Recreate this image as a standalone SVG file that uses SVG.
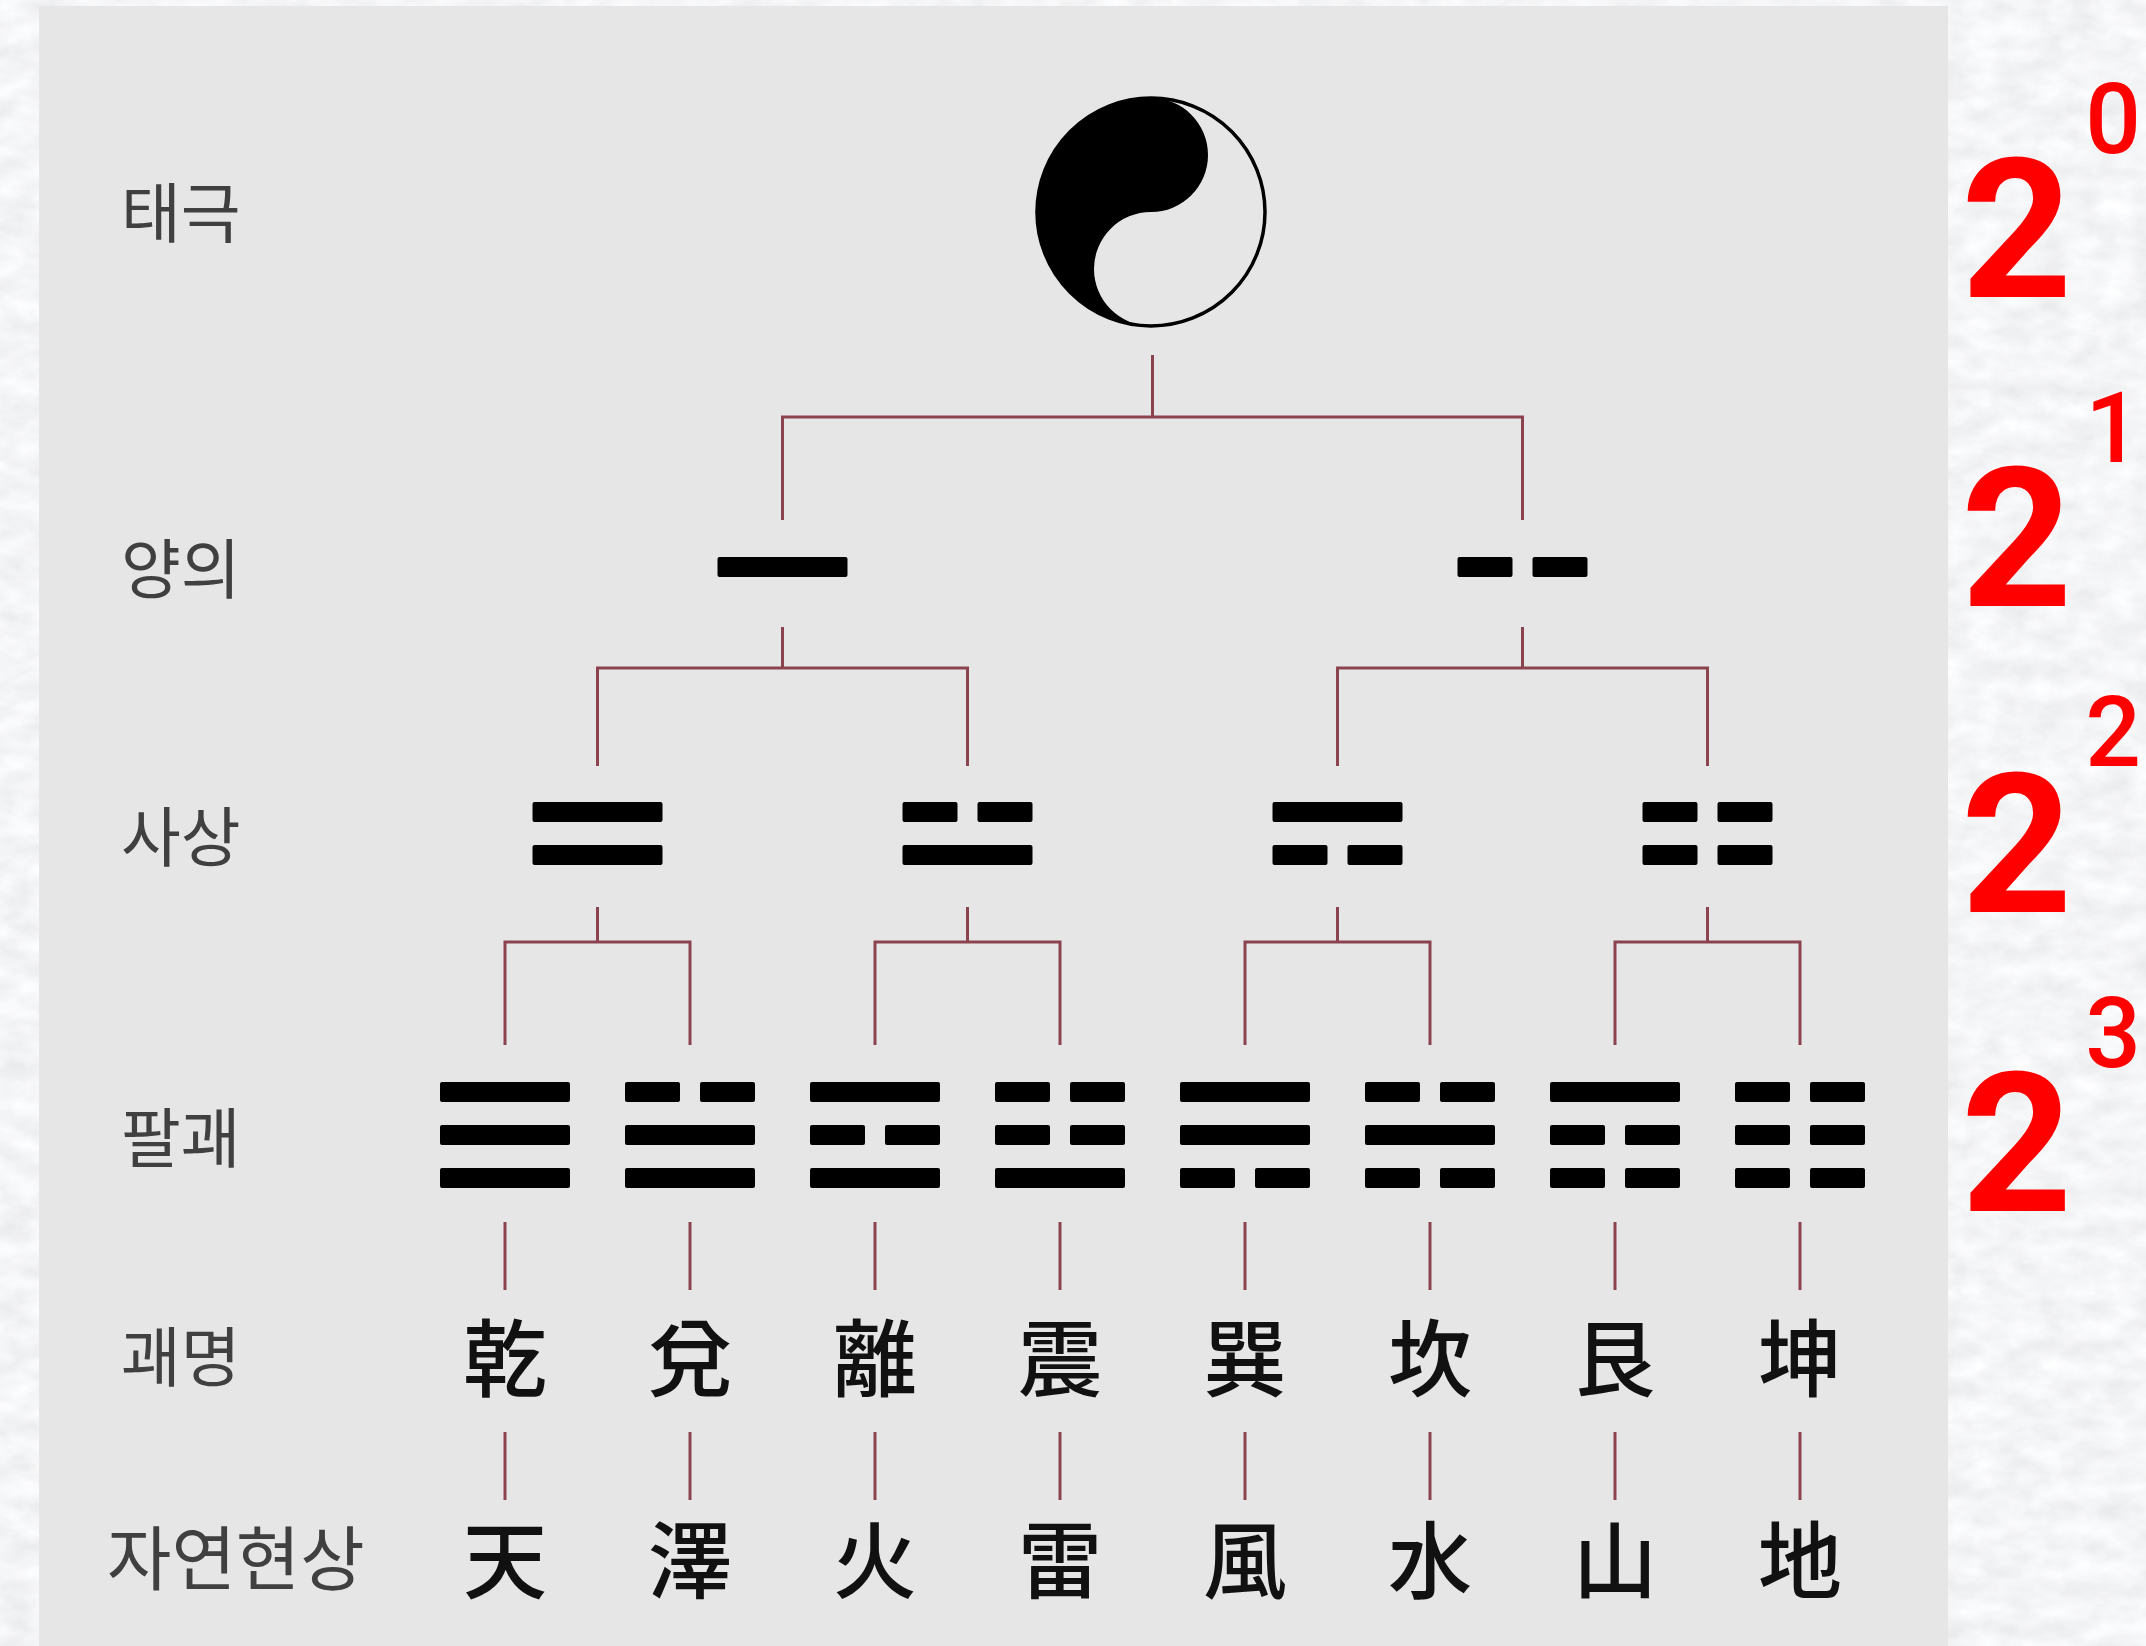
<svg xmlns="http://www.w3.org/2000/svg" xmlns:xlink="http://www.w3.org/1999/xlink" width="2146" height="1646" viewBox="0 0 2146 1646">
  <defs>
    <filter id="marble" filterUnits="userSpaceOnUse" x="0" y="0" width="2146" height="1646">
      <feTurbulence type="fractalNoise" baseFrequency="0.03 0.05" numOctaves="4" seed="11" result="n"/>
      <feColorMatrix in="n" type="matrix" values="0.22 0 0 0 0.8  0.22 0 0 0 0.805  0.22 0 0 0 0.815  0 0 0 0 1"/>
    </filter>
    <rect id="yang" x="-65" y="-10" width="130" height="20" rx="2"/>
    <g id="yin">
      <rect x="-65" y="-10" width="55" height="20" rx="2"/>
      <rect x="10" y="-10" width="55" height="20" rx="2"/>
    </g>
    <style>
      .conn { fill: none; stroke: #8b4350; stroke-width: 3; stroke-linecap: butt; stroke-linejoin: miter; }
      .bar { fill: #000; }
      .label { font-family: "Noto Sans CJK KR", "Noto Sans CJK SC", sans-serif; font-size: 65px; fill: #404040; }
      .hanja { font-family: "Noto Sans CJK KR", "Noto Sans CJK TC", sans-serif; font-size: 84px; font-weight: 500; fill: #111; text-anchor: middle; }
      .pow { font-family: Roboto, "Liberation Sans", sans-serif; font-size: 194px; font-weight: 700; fill: #ff0000; }
      .exp { font-family: Roboto, "Liberation Sans", sans-serif; font-size: 98px; font-weight: 500; fill: #ff0000; text-anchor: middle; }
    </style>
  </defs>

  <!-- textured background -->
  <rect x="0" y="0" width="2146" height="1646" fill="#ececed" filter="url(#marble)"/>
  <!-- diagram panel -->
  <rect x="39" y="6" width="1909" height="1640" fill="#e6e6e6"/>

  <!-- row labels -->
  <g id="row-labels">
    <text class="label" x="121" y="237">태극</text>
    <text class="label" x="121" y="593">양의</text>
    <text class="label" x="121" y="861">사상</text>
    <text class="label" x="121" y="1162">팔괘</text>
    <text class="label" x="121" y="1381">괘명</text>
    <text class="label" x="107" y="1585" style="font-size:70px">자연현상</text>
  </g>

  <!-- connectors -->
  <g id="connectors" class="conn">
    <path d="M1152.5 355 V417"/>
    <path d="M782.5 520 V417 H1522.5 V520"/>
    <path d="M782.5 627 V668"/>
    <path d="M597.5 766 V668 H967.5 V766"/>
    <path d="M1522.5 627 V668"/>
    <path d="M1337.5 766 V668 H1707.5 V766"/>
    <path d="M597.5 907 V942"/>
    <path d="M505 1045 V942 H690 V1045"/>
    <path d="M967.5 907 V942"/>
    <path d="M875 1045 V942 H1060 V1045"/>
    <path d="M1337.5 907 V942"/>
    <path d="M1245 1045 V942 H1430 V1045"/>
    <path d="M1707.5 907 V942"/>
    <path d="M1615 1045 V942 H1800 V1045"/>
    <path d="M505 1222 V1290 M690 1222 V1290 M875 1222 V1290 M1060 1222 V1290 M1245 1222 V1290 M1430 1222 V1290 M1615 1222 V1290 M1800 1222 V1290"/>
    <path d="M505 1432 V1500 M690 1432 V1500 M875 1432 V1500 M1060 1432 V1500 M1245 1432 V1500 M1430 1432 V1500 M1615 1432 V1500 M1800 1432 V1500"/>
  </g>

  <!-- taiji -->
  <g id="taiji">
    <circle cx="1151" cy="212" r="114" fill="#e6e6e6" stroke="#000" stroke-width="3.5"/>
    <path d="M1151 98 A114 114 0 0 0 1151 326 A57 57 0 0 1 1151 212 A57 57 0 0 0 1151 98 Z" fill="#000"/>
  </g>

  <!-- yangyi -->
  <g id="yangyi-yang" class="bar"><use xlink:href="#yang" href="#yang" x="782.5" y="567"/></g>
  <g id="yangyi-yin" class="bar"><use xlink:href="#yin" href="#yin" x="1522.5" y="567"/></g>

  <!-- sasang -->
  <g id="sasang-1" class="bar">
    <use xlink:href="#yang" href="#yang" x="597.5" y="812"/>
    <use xlink:href="#yang" href="#yang" x="597.5" y="855"/>
  </g>
  <g id="sasang-2" class="bar">
    <use xlink:href="#yin" href="#yin" x="967.5" y="812"/>
    <use xlink:href="#yang" href="#yang" x="967.5" y="855"/>
  </g>
  <g id="sasang-3" class="bar">
    <use xlink:href="#yang" href="#yang" x="1337.5" y="812"/>
    <use xlink:href="#yin" href="#yin" x="1337.5" y="855"/>
  </g>
  <g id="sasang-4" class="bar">
    <use xlink:href="#yin" href="#yin" x="1707.5" y="812"/>
    <use xlink:href="#yin" href="#yin" x="1707.5" y="855"/>
  </g>

  <!-- trigrams -->
  <g id="trigram-geon" class="bar">
    <use xlink:href="#yang" href="#yang" x="505" y="1092"/>
    <use xlink:href="#yang" href="#yang" x="505" y="1135"/>
    <use xlink:href="#yang" href="#yang" x="505" y="1178"/>
  </g>
  <g id="trigram-tae" class="bar">
    <use xlink:href="#yin" href="#yin" x="690" y="1092"/>
    <use xlink:href="#yang" href="#yang" x="690" y="1135"/>
    <use xlink:href="#yang" href="#yang" x="690" y="1178"/>
  </g>
  <g id="trigram-ri" class="bar">
    <use xlink:href="#yang" href="#yang" x="875" y="1092"/>
    <use xlink:href="#yin" href="#yin" x="875" y="1135"/>
    <use xlink:href="#yang" href="#yang" x="875" y="1178"/>
  </g>
  <g id="trigram-jin" class="bar">
    <use xlink:href="#yin" href="#yin" x="1060" y="1092"/>
    <use xlink:href="#yin" href="#yin" x="1060" y="1135"/>
    <use xlink:href="#yang" href="#yang" x="1060" y="1178"/>
  </g>
  <g id="trigram-son" class="bar">
    <use xlink:href="#yang" href="#yang" x="1245" y="1092"/>
    <use xlink:href="#yang" href="#yang" x="1245" y="1135"/>
    <use xlink:href="#yin" href="#yin" x="1245" y="1178"/>
  </g>
  <g id="trigram-gam" class="bar">
    <use xlink:href="#yin" href="#yin" x="1430" y="1092"/>
    <use xlink:href="#yang" href="#yang" x="1430" y="1135"/>
    <use xlink:href="#yin" href="#yin" x="1430" y="1178"/>
  </g>
  <g id="trigram-gan" class="bar">
    <use xlink:href="#yang" href="#yang" x="1615" y="1092"/>
    <use xlink:href="#yin" href="#yin" x="1615" y="1135"/>
    <use xlink:href="#yin" href="#yin" x="1615" y="1178"/>
  </g>
  <g id="trigram-gon" class="bar">
    <use xlink:href="#yin" href="#yin" x="1800" y="1092"/>
    <use xlink:href="#yin" href="#yin" x="1800" y="1135"/>
    <use xlink:href="#yin" href="#yin" x="1800" y="1178"/>
  </g>

  <!-- trigram names -->
  <g id="gwae-names">
    <text class="hanja" x="505" y="1390">乾</text>
    <text class="hanja" x="690" y="1390">兌</text>
    <text class="hanja" x="875" y="1390">離</text>
    <text class="hanja" x="1060" y="1390">震</text>
    <text class="hanja" x="1245" y="1390">巽</text>
    <text class="hanja" x="1430" y="1390">坎</text>
    <text class="hanja" x="1615" y="1390">艮</text>
    <text class="hanja" x="1800" y="1390">坤</text>
  </g>

  <!-- natural phenomena -->
  <g id="nature-names">
    <text class="hanja" x="505" y="1592">天</text>
    <text class="hanja" x="690" y="1592">澤</text>
    <text class="hanja" x="875" y="1592">火</text>
    <text class="hanja" x="1060" y="1592">雷</text>
    <text class="hanja" x="1245" y="1592">風</text>
    <text class="hanja" x="1430" y="1592">水</text>
    <text class="hanja" x="1615" y="1592">山</text>
    <text class="hanja" x="1800" y="1592">地</text>
  </g>

  <!-- powers of two -->
  <g id="power-0"><text class="pow" x="1961" y="297">2</text><text class="exp" x="2113" y="153">0</text></g>
  <g id="power-1"><text class="pow" x="1961" y="606">2</text><text class="exp" x="2113" y="462">1</text></g>
  <g id="power-2"><text class="pow" x="1961" y="912">2</text><text class="exp" x="2113" y="766">2</text></g>
  <g id="power-3"><text class="pow" x="1961" y="1211">2</text><text class="exp" x="2113" y="1067">3</text></g>
</svg>
